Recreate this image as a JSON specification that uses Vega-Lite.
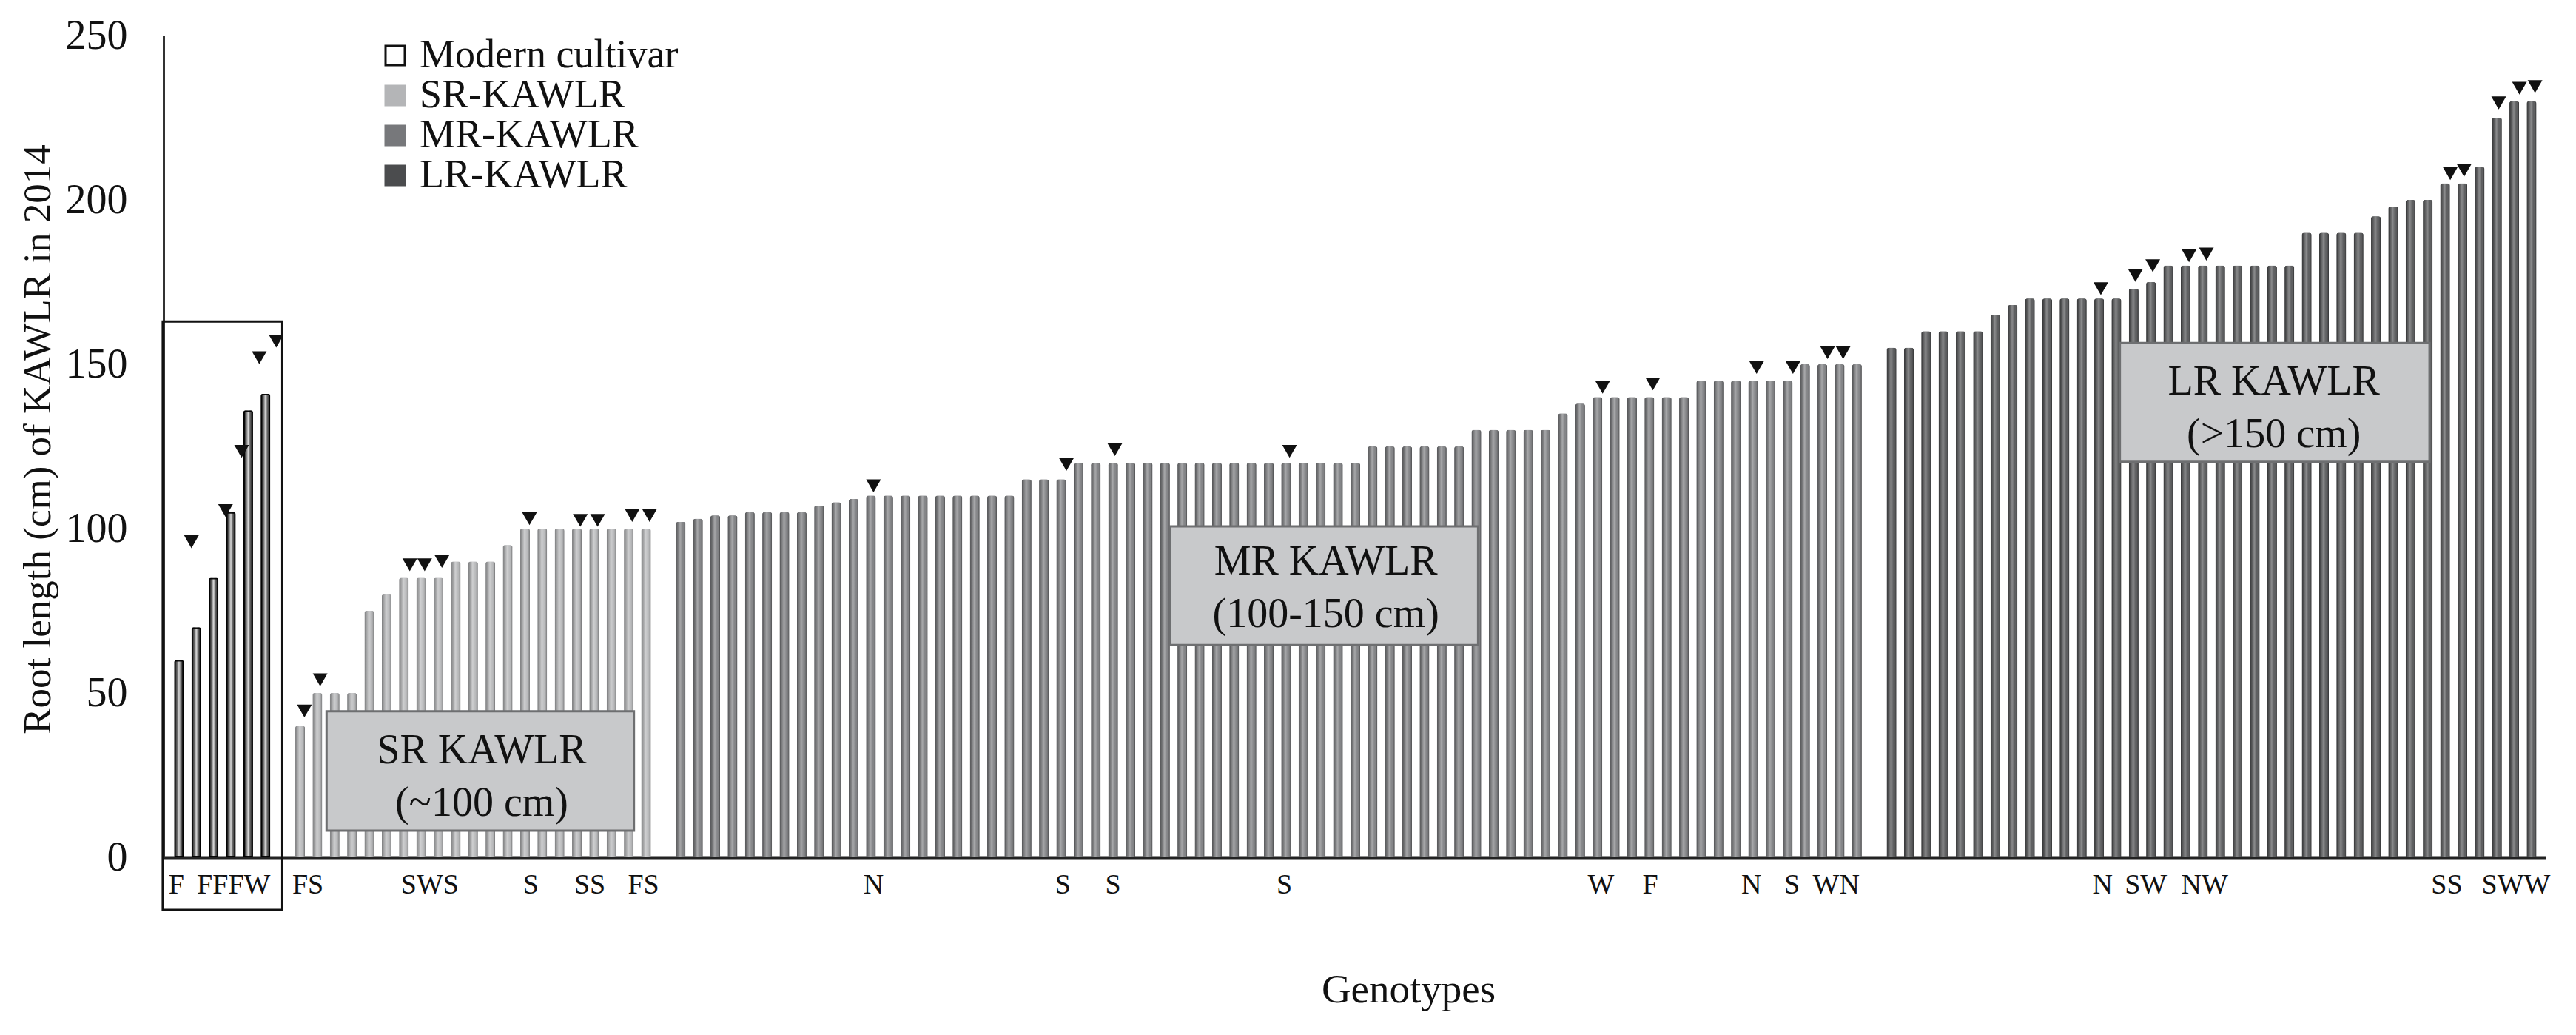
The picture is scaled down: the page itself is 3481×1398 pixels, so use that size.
{
  "$schema": "https://vega.github.io/schema/vega-lite/v6.json",
  "width": 3219,
  "height": 1110,
  "autosize": {"type": "none"},
  "padding": {"left": 221, "top": 48, "right": 41, "bottom": 240},
  "background": "white",
  "config": {
    "view": {"stroke": null},
    "font": "Liberation Serif",
    "axisX": {"labels": false, "ticks": false, "tickSize": 0, "grid": false, "domain": true, "domainColor": "#222222", "domainWidth": 4,
              "titleFont": "Liberation Serif", "titleFontSize": 55, "titleFontWeight": "normal", "titleColor": "#111111", "titleX": 1682, "titleY": 195, "titleAlign": "center", "titleBaseline": "alphabetic"},
    "axisY": {"ticks": false, "tickSize": 0, "grid": false, "domain": true, "domainColor": "#333333", "domainWidth": 3,
              "labelFont": "Liberation Serif", "labelFontSize": 56, "labelColor": "#111111", "labelPadding": 49,
              "titleFont": "Liberation Serif", "titleFontSize": 53, "titleFontWeight": "normal", "titleColor": "#111111", "titleX": -154, "titleY": 545, "titleAngle": 270, "titleAlign": "center", "titleBaseline": "alphabetic"}
  },
  "datasets": {
    "bars": [
      {"pos":1,"cm":60,"group":"Modern cultivar"},{"pos":2,"cm":70,"group":"Modern cultivar"},{"pos":3,"cm":85,"group":"Modern cultivar"},{"pos":4,"cm":105,"group":"Modern cultivar"},{"pos":5,"cm":136,"group":"Modern cultivar"},{"pos":6,"cm":141,"group":"Modern cultivar"},
      {"pos":8,"cm":40,"group":"SR-KAWLR"},{"pos":9,"cm":50,"group":"SR-KAWLR"},{"pos":10,"cm":50,"group":"SR-KAWLR"},{"pos":11,"cm":50,"group":"SR-KAWLR"},{"pos":12,"cm":75,"group":"SR-KAWLR"},{"pos":13,"cm":80,"group":"SR-KAWLR"},{"pos":14,"cm":85,"group":"SR-KAWLR"},{"pos":15,"cm":85,"group":"SR-KAWLR"},{"pos":16,"cm":85,"group":"SR-KAWLR"},{"pos":17,"cm":90,"group":"SR-KAWLR"},{"pos":18,"cm":90,"group":"SR-KAWLR"},{"pos":19,"cm":90,"group":"SR-KAWLR"},{"pos":20,"cm":95,"group":"SR-KAWLR"},{"pos":21,"cm":100,"group":"SR-KAWLR"},{"pos":22,"cm":100,"group":"SR-KAWLR"},{"pos":23,"cm":100,"group":"SR-KAWLR"},{"pos":24,"cm":100,"group":"SR-KAWLR"},{"pos":25,"cm":100,"group":"SR-KAWLR"},{"pos":26,"cm":100,"group":"SR-KAWLR"},{"pos":27,"cm":100,"group":"SR-KAWLR"},{"pos":28,"cm":100,"group":"SR-KAWLR"},
      {"pos":30,"cm":102,"group":"MR-KAWLR"},{"pos":31,"cm":103,"group":"MR-KAWLR"},{"pos":32,"cm":104,"group":"MR-KAWLR"},{"pos":33,"cm":104,"group":"MR-KAWLR"},{"pos":34,"cm":105,"group":"MR-KAWLR"},{"pos":35,"cm":105,"group":"MR-KAWLR"},{"pos":36,"cm":105,"group":"MR-KAWLR"},{"pos":37,"cm":105,"group":"MR-KAWLR"},{"pos":38,"cm":107,"group":"MR-KAWLR"},{"pos":39,"cm":108,"group":"MR-KAWLR"},{"pos":40,"cm":109,"group":"MR-KAWLR"},
      {"pos":41,"cm":110,"group":"MR-KAWLR"},{"pos":42,"cm":110,"group":"MR-KAWLR"},{"pos":43,"cm":110,"group":"MR-KAWLR"},{"pos":44,"cm":110,"group":"MR-KAWLR"},{"pos":45,"cm":110,"group":"MR-KAWLR"},{"pos":46,"cm":110,"group":"MR-KAWLR"},{"pos":47,"cm":110,"group":"MR-KAWLR"},{"pos":48,"cm":110,"group":"MR-KAWLR"},{"pos":49,"cm":110,"group":"MR-KAWLR"},
      {"pos":50,"cm":115,"group":"MR-KAWLR"},{"pos":51,"cm":115,"group":"MR-KAWLR"},{"pos":52,"cm":115,"group":"MR-KAWLR"},
      {"pos":53,"cm":120,"group":"MR-KAWLR"},{"pos":54,"cm":120,"group":"MR-KAWLR"},{"pos":55,"cm":120,"group":"MR-KAWLR"},{"pos":56,"cm":120,"group":"MR-KAWLR"},{"pos":57,"cm":120,"group":"MR-KAWLR"},{"pos":58,"cm":120,"group":"MR-KAWLR"},{"pos":59,"cm":120,"group":"MR-KAWLR"},{"pos":60,"cm":120,"group":"MR-KAWLR"},{"pos":61,"cm":120,"group":"MR-KAWLR"},{"pos":62,"cm":120,"group":"MR-KAWLR"},{"pos":63,"cm":120,"group":"MR-KAWLR"},{"pos":64,"cm":120,"group":"MR-KAWLR"},{"pos":65,"cm":120,"group":"MR-KAWLR"},{"pos":66,"cm":120,"group":"MR-KAWLR"},{"pos":67,"cm":120,"group":"MR-KAWLR"},{"pos":68,"cm":120,"group":"MR-KAWLR"},{"pos":69,"cm":120,"group":"MR-KAWLR"},
      {"pos":70,"cm":125,"group":"MR-KAWLR"},{"pos":71,"cm":125,"group":"MR-KAWLR"},{"pos":72,"cm":125,"group":"MR-KAWLR"},{"pos":73,"cm":125,"group":"MR-KAWLR"},{"pos":74,"cm":125,"group":"MR-KAWLR"},{"pos":75,"cm":125,"group":"MR-KAWLR"},
      {"pos":76,"cm":130,"group":"MR-KAWLR"},{"pos":77,"cm":130,"group":"MR-KAWLR"},{"pos":78,"cm":130,"group":"MR-KAWLR"},{"pos":79,"cm":130,"group":"MR-KAWLR"},{"pos":80,"cm":130,"group":"MR-KAWLR"},
      {"pos":81,"cm":135,"group":"MR-KAWLR"},{"pos":82,"cm":138,"group":"MR-KAWLR"},
      {"pos":83,"cm":140,"group":"MR-KAWLR"},{"pos":84,"cm":140,"group":"MR-KAWLR"},{"pos":85,"cm":140,"group":"MR-KAWLR"},{"pos":86,"cm":140,"group":"MR-KAWLR"},{"pos":87,"cm":140,"group":"MR-KAWLR"},{"pos":88,"cm":140,"group":"MR-KAWLR"},
      {"pos":89,"cm":145,"group":"MR-KAWLR"},{"pos":90,"cm":145,"group":"MR-KAWLR"},{"pos":91,"cm":145,"group":"MR-KAWLR"},{"pos":92,"cm":145,"group":"MR-KAWLR"},{"pos":93,"cm":145,"group":"MR-KAWLR"},{"pos":94,"cm":145,"group":"MR-KAWLR"},
      {"pos":95,"cm":150,"group":"MR-KAWLR"},{"pos":96,"cm":150,"group":"MR-KAWLR"},{"pos":97,"cm":150,"group":"MR-KAWLR"},{"pos":98,"cm":150,"group":"MR-KAWLR"},
      {"pos":100,"cm":155,"group":"LR-KAWLR"},{"pos":101,"cm":155,"group":"LR-KAWLR"},{"pos":102,"cm":160,"group":"LR-KAWLR"},{"pos":103,"cm":160,"group":"LR-KAWLR"},{"pos":104,"cm":160,"group":"LR-KAWLR"},{"pos":105,"cm":160,"group":"LR-KAWLR"},{"pos":106,"cm":165,"group":"LR-KAWLR"},{"pos":107,"cm":168,"group":"LR-KAWLR"},
      {"pos":108,"cm":170,"group":"LR-KAWLR"},{"pos":109,"cm":170,"group":"LR-KAWLR"},{"pos":110,"cm":170,"group":"LR-KAWLR"},{"pos":111,"cm":170,"group":"LR-KAWLR"},{"pos":112,"cm":170,"group":"LR-KAWLR"},{"pos":113,"cm":170,"group":"LR-KAWLR"},
      {"pos":114,"cm":173,"group":"LR-KAWLR"},{"pos":115,"cm":175,"group":"LR-KAWLR"},
      {"pos":116,"cm":180,"group":"LR-KAWLR"},{"pos":117,"cm":180,"group":"LR-KAWLR"},{"pos":118,"cm":180,"group":"LR-KAWLR"},{"pos":119,"cm":180,"group":"LR-KAWLR"},{"pos":120,"cm":180,"group":"LR-KAWLR"},{"pos":121,"cm":180,"group":"LR-KAWLR"},{"pos":122,"cm":180,"group":"LR-KAWLR"},{"pos":123,"cm":180,"group":"LR-KAWLR"},
      {"pos":124,"cm":190,"group":"LR-KAWLR"},{"pos":125,"cm":190,"group":"LR-KAWLR"},{"pos":126,"cm":190,"group":"LR-KAWLR"},{"pos":127,"cm":190,"group":"LR-KAWLR"},
      {"pos":128,"cm":195,"group":"LR-KAWLR"},{"pos":129,"cm":198,"group":"LR-KAWLR"},{"pos":130,"cm":200,"group":"LR-KAWLR"},{"pos":131,"cm":200,"group":"LR-KAWLR"},{"pos":132,"cm":205,"group":"LR-KAWLR"},{"pos":133,"cm":205,"group":"LR-KAWLR"},{"pos":134,"cm":210,"group":"LR-KAWLR"},{"pos":135,"cm":225,"group":"LR-KAWLR"},{"pos":136,"cm":230,"group":"LR-KAWLR"},{"pos":137,"cm":230,"group":"LR-KAWLR"}
    ],
    "tris": [
      {"pos":1.72,"cm":96},{"pos":3.69,"cm":105.5},{"pos":4.62,"cm":123.5},{"pos":5.64,"cm":152},{"pos":6.62,"cm":157},
      {"pos":8.25,"cm":44.5},{"pos":9.16,"cm":54},{"pos":14.34,"cm":89},{"pos":15.2,"cm":89},{"pos":16.2,"cm":90},{"pos":21.26,"cm":103},{"pos":24.2,"cm":102.5},{"pos":25.2,"cm":102.5},{"pos":27.2,"cm":104},{"pos":28.2,"cm":104},
      {"pos":41.15,"cm":113},{"pos":52.3,"cm":119.5},{"pos":55.1,"cm":124},{"pos":65.2,"cm":123.5},{"pos":83.3,"cm":143},{"pos":86.2,"cm":144},{"pos":92.2,"cm":149},{"pos":94.3,"cm":149},{"pos":96.3,"cm":153.5},{"pos":97.2,"cm":153.5},
      {"pos":112.1,"cm":173},{"pos":114.1,"cm":177},{"pos":115.1,"cm":180},{"pos":117.2,"cm":183},{"pos":118.2,"cm":183.5},{"pos":132.3,"cm":208},{"pos":133.1,"cm":209},{"pos":135.1,"cm":229.5},{"pos":136.3,"cm":234},{"pos":137.2,"cm":234.5}
    ],
    "letters": [
      {"pos":0.85,"t":"F"},{"pos":4.16,"t":"FFFW"},{"pos":8.45,"t":"FS"},{"pos":15.5,"t":"SWS"},{"pos":21.34,"t":"S"},{"pos":24.75,"t":"SS"},{"pos":27.85,"t":"FS"},
      {"pos":41.15,"t":"N"},{"pos":52.1,"t":"S"},{"pos":55.0,"t":"S"},{"pos":64.9,"t":"S"},{"pos":83.2,"t":"W"},{"pos":86.05,"t":"F"},{"pos":91.9,"t":"N"},{"pos":94.25,"t":"S"},{"pos":96.8,"t":"WN"},
      {"pos":112.2,"t":"N"},{"pos":114.7,"t":"SW"},{"pos":118.1,"t":"NW"},{"pos":132.1,"t":"SS"},{"pos":136.1,"t":"SWW"}
    ],
    "boxes": [
      {"x1":9.53,"x2":27.3,"y1":44.4,"y2":8.1,"cx":18.5,"cy":28.5,"label":"SR KAWLR\n(~100 cm)"},
      {"x1":58.3,"x2":76.1,"y1":100.7,"y2":64.6,"cx":67.3,"cy":86.0,"label":"MR KAWLR\n(100-150 cm)"},
      {"x1":113.2,"x2":131.1,"y1":156.5,"y2":120.3,"cx":122.1,"cy":140.7,"label":"LR KAWLR\n(>150 cm)"}
    ],
    "mbox": [
      {"x1":0.06,"x2":6.97,"y1":163,"y2":-16}
    ]
  },
  "layer": [
    {
      "data": {"name": "bars"},
      "mark": {"type": "bar", "width": 13, "cornerRadiusEnd": 3},
      "encoding": {
        "x": {"field": "pos", "type": "quantitative", "scale": {"domain": [0.32, 137.6], "nice": false, "zero": false}, "axis": {"title": "Genotypes"}},
        "y": {"field": "cm", "type": "quantitative", "scale": {"domain": [0, 250], "nice": false}, "axis": {"title": "Root length  (cm) of KAWLR in 2014", "values": [0, 50, 100, 150, 200, 250]}},
        "strokeWidth": {"condition": {"test": "datum.group === 'Modern cultivar'", "value": 4}, "value": 3},
        "fill": {"field": "group", "type": "nominal",
                 "scale": {"domain": ["Modern cultivar", "SR-KAWLR", "MR-KAWLR", "LR-KAWLR"], "range": ["#ffffff", "#b4b5b7", "#77787b", "#4b4c4e"]},
                 "legend": {"title": null, "orient": "none", "legendX": 286, "legendY": 0, "symbolType": "square", "symbolSize": 676, "symbolStrokeWidth": 3, "labelFont": "Liberation Serif", "labelFontSize": 54, "labelColor": "#111111", "labelOffset": 6, "rowPadding": -3, "padding": 0, "labelLimit": 1000}},
        "stroke": {"field": "group", "type": "nominal",
                 "scale": {"domain": ["Modern cultivar", "SR-KAWLR", "MR-KAWLR", "LR-KAWLR"], "range": ["#111111", "#b4b5b7", "#77787b", "#4b4c4e"]},
                 "legend": {"title": null, "orient": "none", "legendX": 286, "legendY": 0, "symbolType": "square", "symbolSize": 676, "symbolStrokeWidth": 3, "labelFont": "Liberation Serif", "labelFontSize": 54, "labelColor": "#111111", "labelOffset": 6, "rowPadding": -3, "padding": 0, "labelLimit": 1000}}
      }
    },
    {
      "data": {"name": "bars"},
      "mark": {"type": "bar", "width": 13, "cornerRadiusEnd": 3},
      "encoding": {
        "x": {"field": "pos", "type": "quantitative", "scale": {"domain": [0.32, 137.6], "nice": false, "zero": false}, "axis": {"title": "Genotypes"}},
        "y": {"field": "cm", "type": "quantitative", "scale": {"domain": [0, 250], "nice": false}, "axis": {"title": "Root length  (cm) of KAWLR in 2014", "values": [0, 50, 100, 150, 200, 250]}},
        "fill": {
          "condition": {"test": "datum.group === 'Modern cultivar'",
                        "value": {"gradient": "linear", "x1": 0, "y1": 0, "x2": 1, "y2": 0,
                                  "stops": [{"offset": 0, "color": "rgba(0,0,0,0.95)"}, {"offset": 0.3, "color": "rgba(0,0,0,0.6)"}, {"offset": 0.5, "color": "rgba(0,0,0,0.15)"}, {"offset": 0.7, "color": "rgba(0,0,0,0.6)"}, {"offset": 1, "color": "rgba(0,0,0,0.95)"}]}},
          "value": {"gradient": "linear", "x1": 0, "y1": 0, "x2": 1, "y2": 0,
                    "stops": [{"offset": 0, "color": "rgba(0,0,0,0.3)"}, {"offset": 0.45, "color": "rgba(255,255,255,0.35)"}, {"offset": 0.7, "color": "rgba(255,255,255,0.1)"}, {"offset": 1, "color": "rgba(0,0,0,0.4)"}]}
        }
      }
    },
    {
      "data": {"name": "mbox"},
      "mark": {"type": "rect", "fill": "transparent", "stroke": "#111111", "strokeWidth": 3},
      "encoding": {
        "x": {"field": "x1", "type": "quantitative", "scale": {"domain": [0.32, 137.6], "nice": false, "zero": false}, "axis": {"title": "Genotypes"}},
        "x2": {"field": "x2"},
        "y": {"field": "y1", "type": "quantitative", "scale": {"domain": [0, 250], "nice": false}, "axis": {"title": "Root length  (cm) of KAWLR in 2014", "values": [0, 50, 100, 150, 200, 250]}},
        "y2": {"field": "y2"}
      }
    },
    {
      "data": {"name": "boxes"},
      "mark": {"type": "rect", "fill": "#c8c9cb", "stroke": "#6e6f71", "strokeWidth": 3},
      "encoding": {
        "x": {"field": "x1", "type": "quantitative", "scale": {"domain": [0.32, 137.6], "nice": false, "zero": false}, "axis": {"title": "Genotypes"}},
        "x2": {"field": "x2"},
        "y": {"field": "y1", "type": "quantitative", "scale": {"domain": [0, 250], "nice": false}, "axis": {"title": "Root length  (cm) of KAWLR in 2014", "values": [0, 50, 100, 150, 200, 250]}},
        "y2": {"field": "y2"}
      }
    },
    {
      "data": {"name": "boxes"},
      "mark": {"type": "text", "font": "Liberation Serif", "fontSize": 56, "color": "#111111", "align": "center", "baseline": "alphabetic", "lineBreak": "\n", "lineHeight": 71},
      "encoding": {
        "x": {"field": "cx", "type": "quantitative", "scale": {"domain": [0.32, 137.6], "nice": false, "zero": false}, "axis": {"title": "Genotypes"}},
        "y": {"field": "cy", "type": "quantitative", "scale": {"domain": [0, 250], "nice": false}, "axis": {"title": "Root length  (cm) of KAWLR in 2014", "values": [0, 50, 100, 150, 200, 250]}},
        "text": {"field": "label"}
      }
    },
    {
      "data": {"name": "tris"},
      "mark": {"type": "point", "shape": "triangle-down", "filled": true, "size": 400, "color": "#111111", "opacity": 1},
      "encoding": {
        "x": {"field": "pos", "type": "quantitative", "scale": {"domain": [0.32, 137.6], "nice": false, "zero": false}, "axis": {"title": "Genotypes"}},
        "y": {"field": "cm", "type": "quantitative", "scale": {"domain": [0, 250], "nice": false}, "axis": {"title": "Root length  (cm) of KAWLR in 2014", "values": [0, 50, 100, 150, 200, 250]}}
      }
    },
    {
      "data": {"name": "letters"},
      "mark": {"type": "text", "font": "Liberation Serif", "fontSize": 38, "color": "#111111", "align": "center", "baseline": "alphabetic"},
      "encoding": {
        "x": {"field": "pos", "type": "quantitative", "scale": {"domain": [0.32, 137.6], "nice": false, "zero": false}, "axis": {"title": "Genotypes"}},
        "y": {"datum": -11, "type": "quantitative", "scale": {"domain": [0, 250], "nice": false}, "axis": {"title": "Root length  (cm) of KAWLR in 2014", "values": [0, 50, 100, 150, 200, 250]}},
        "text": {"field": "t"}
      }
    }
  ]
}
